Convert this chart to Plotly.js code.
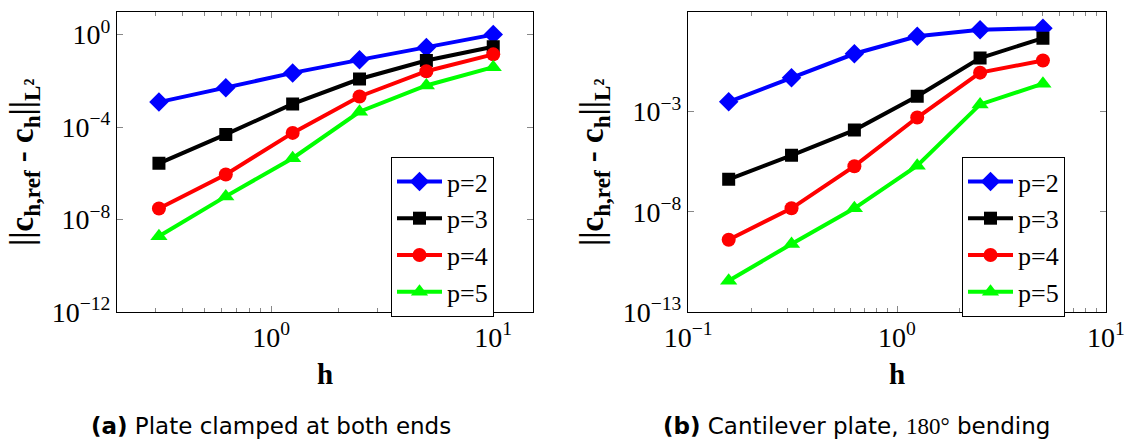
<!DOCTYPE html>
<html><head><meta charset="utf-8">
<script src="https://cdn.plot.ly/plotly-3.0.1.min.js"></script>
<style>html,body{margin:0;padding:0;background:#fff}#c{width:1127px;height:443px}</style>
</head><body><div id="c"></div>
<script>
// ---- data ----
const seriesNames = ["p=2", "p=3", "p=4", "p=5"];
const hA = [0.3125, 0.625, 1.25, 2.5, 5, 10];
const errA_p2 = [1.2e-3, 5.0e-3, 2.2e-2, 8.1e-2, 0.28, 1.0];
const errA_p3 = [2.7e-6, 4.8e-5, 1.0e-3, 1.2e-2, 7.6e-2, 0.30];
const errA_p4 = [3.0e-8, 8.9e-7, 5.6e-5, 2.1e-3, 2.6e-2, 0.14];
const errA_p5 = [1.9e-9, 1.0e-7, 4.5e-6, 4.6e-4, 6.3e-3, 3.9e-2];

const hB = [0.15625, 0.3125, 0.625, 1.25, 2.5, 5];
const errB_p2 = [3.1e-3, 5.0e-2, 0.78, 5.8, 12.3, 14.8];
const errB_p3 = [4.2e-7, 6.6e-6, 1.2e-4, 5.9e-3, 0.48, 4.7];
const errB_p4 = [4.0e-10, 1.5e-8, 1.9e-6, 5.1e-4, 8.9e-2, 0.36];
const errB_p5 = [3.6e-12, 2.5e-10, 1.5e-8, 2.0e-6, 2.3e-3, 2.5e-2];

const yTicksA = [1, 1e-4, 1e-8, 1e-12];
const yTickTextA = ["10<sup>0</sup>", "10<sup>−4</sup>", "10<sup>−8</sup>", "10<sup>−12</sup>"];
const yTicksB = [1e2, 1e-3, 1e-8, 1e-13];
const yTickTextB = ["10<sup>2</sup>", "10<sup>−3</sup>", "10<sup>−8</sup>", "10<sup>−13</sup>"];
const xTicksA = [1, 10];
const xTickTextA = ["10<sup>0</sup>", "10<sup>1</sup>"];
const xTicksB = [0.1, 1, 10];
const xTickTextB = ["10<sup>−1</sup>", "10<sup>0</sup>", "10<sup>1</sup>"];
const xMinorA = [0.3,0.4,0.5,0.6,0.7,0.8,0.9,2,3,4,5,6,7,8,9];
const xMinorB = [0.2,0.3,0.4,0.5,0.6,0.7,0.8,0.9,2,3,4,5,6,7,8,9];

const serif = "Liberation Serif";
const captionA = "<b>(a)</b> Plate clamped at both ends";
const captionB = "<b>(b)</b> Cantilever plate, <span style=\"font-family:Liberation Serif\">180°</span> bending";
const yTitle = "<b>||c<sub>h,ref</sub> - c<sub>h</sub>||<sub>L²</sub></b>";
const xTitle = "<b>h</b>";

// ---- styles ----
const colors = ["#0000ff", "#000000", "#ff0000", "#00ff00"];
const symbols = ["diamond", "square", "circle", "triangle-up"];
const sizes = [15, 13, 14, 15];

function mk(x, y, i, xa, ya, leg) {
  return {
    x: x, y: y, xaxis: xa, yaxis: ya, legend: leg,
    name: seriesNames[i], type: "scatter", mode: "lines+markers",
    line: {color: colors[i], width: 4},
    marker: {symbol: symbols[i], size: sizes[i], color: colors[i]}
  };
}
const A = [errA_p2, errA_p3, errA_p4, errA_p5];
const B = [errB_p2, errB_p3, errB_p4, errB_p5];
const traces = [];
A.forEach((e, i) => traces.push(mk(hA, e, i, "x", "y", "legend")));
B.forEach((e, i) => traces.push(mk(hB, e, i, "x2", "y2", "legend2")));

const tickFont = {family: serif, size: 28, color: "#000"};
function xax(dom, rng, tv, tt, minor, anchor) {
  return {domain: dom, type: "log", range: rng, anchor: anchor,
    tickmode: "array", tickvals: tv, ticktext: tt,
    ticks: "inside", ticklen: 6, tickcolor: "#888", tickwidth: 1,
    minor: {tickmode: "array", tickvals: minor, ticks: "inside", ticklen: 4, tickcolor: "#888", tickwidth: 1},
    showline: true, linecolor: "#000", linewidth: 1, mirror: "ticks",
    showgrid: false, zeroline: false, tickfont: tickFont};
}
function yax(dom, rng, tv, tt, anchor) {
  return {domain: dom, type: "log", range: rng, anchor: anchor,
    tickmode: "array", tickvals: tv, ticktext: tt,
    ticks: "inside", ticklen: 6, tickcolor: "#888", tickwidth: 1,
    showline: true, linecolor: "#000", linewidth: 1, mirror: "ticks",
    showgrid: false, zeroline: false, tickfont: tickFont};
}
const yDom = [1 - 312/443, 1 - 11.5/443];
const legStyle = (x) => ({x: x, y: 1 - 157/443, xanchor: "left", yanchor: "top",
  bordercolor: "#000", borderwidth: 1, bgcolor: "#fff",
  font: {family: "Liberation Serif", size: 26, color: "#000"}, tracegroupgap: 0, itemwidth: 45});

function ann(text, x, y, font, angle) {
  return {text: text, x: x/1127, y: 1 - y/443, xref: "paper", yref: "paper",
    xanchor: "center", yanchor: "middle", showarrow: false, textangle: angle || 0, font: font};
}
const titleFont = {family: serif, size: 33, color: "#000"};
const hFont = {family: serif, size: 29, color: "#000"};
const capFont = {family: "DejaVu Sans", size: 23, color: "#000"};

const layout = {
  width: 1127, height: 443, margin: {l: 0, r: 0, t: 0, b: 0},
  font: {family: serif, color: "#000"},
  paper_bgcolor: "#fff", plot_bgcolor: "#fff",
  xaxis: xax([117/1127, 533/1127], [-0.694, 1.179], xTicksA, xTickTextA, xMinorA, "y"),
  yaxis: yax(yDom, [-12.002, 1], yTicksA, yTickTextA, "x"),
  xaxis2: xax([688/1127, 1106/1127], [-1.001, 1.001], xTicksB, xTickTextB, xMinorB, "y2"),
  yaxis2: yax(yDom, [-13.002, 2.002], yTicksB, yTickTextB, "x2"),
  legend: legStyle(391/1127),
  legend2: legStyle(962/1127),
  annotations: [
    ann(yTitle, 24, 162, titleFont, -90),
    ann(yTitle, 594, 162, titleFont, -90),
    ann(xTitle, 325, 374, hFont),
    ann(xTitle, 897, 374, hFont),
    ann(captionA, 271, 426, capFont),
    ann(captionB, 856, 426, capFont)
  ]
};
Plotly.newPlot("c", traces, layout, {staticPlot: true, displayModeBar: false});
</script></body></html>
